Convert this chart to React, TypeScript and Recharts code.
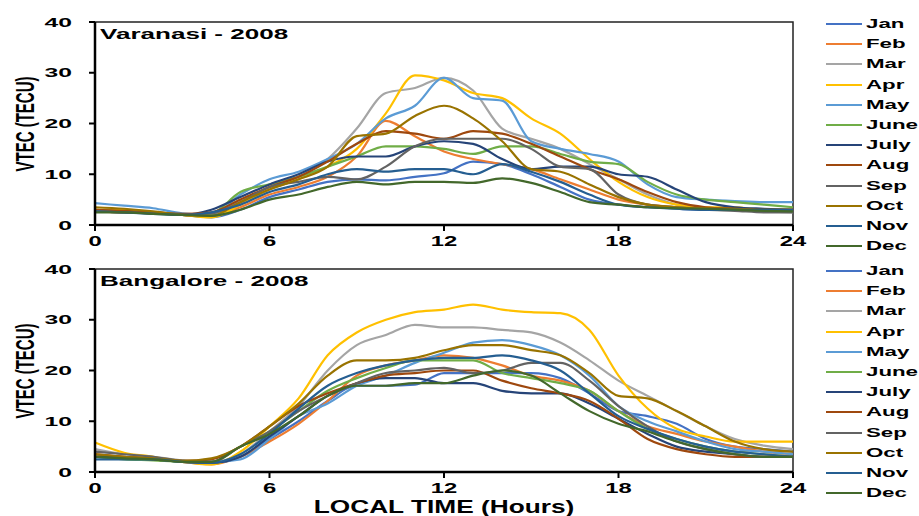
import { LineChart, Line, XAxis, YAxis, ReferenceArea, Legend } from "recharts";

const FONT = '"Liberation Sans", Arial, sans-serif';

const hours = [0, 1, 2, 3, 4, 5, 6, 7, 8, 9, 10, 11, 12, 13, 14, 15, 16, 17, 18, 19, 20, 21, 22, 23, 24];
const months = ["Jan", "Feb", "Mar", "Apr", "May", "June", "July", "Aug", "Sep", "Oct", "Nov", "Dec"];
const monthColors = [
  "#4472C4", "#ED7D31", "#A5A5A5", "#FFC000", "#5B9BD5", "#70AD47",
  "#264478", "#9E480E", "#636363", "#997300", "#255E91", "#43682B",
];
const xTicks = [0, 6, 12, 18, 24];
const yTicks = [0, 10, 20, 30, 40];

// Varanasi - 2008, hourly VTEC
const varJan = [3, 2.7, 2.4, 2, 1.5, 3, 5.5, 7, 8.5, 9, 8.8, 9.5, 10.2, 12.5, 12, 10, 7.5, 5, 4, 3.5, 3.2, 3, 3, 3, 3];
const varFeb = [2.8, 2.5, 2.5, 2, 1.8, 3.5, 6, 7.5, 9.5, 13.5, 20.5, 17.5, 14.5, 13, 12, 11, 9, 7, 5, 4, 3.5, 3.3, 3, 3, 3];
const varMar = [3, 2.8, 2.5, 2, 2.2, 4.5, 7.5, 9.5, 13, 19, 26, 27, 29, 26.5, 19, 17, 15, 12, 9, 6, 4, 3.2, 3, 2.7, 2.5];
const varApr = [3, 3, 2.5, 2, 1.5, 4, 7, 9, 11.5, 15, 22, 29.5, 28.5, 26, 25, 21, 18, 13, 8.5, 5.5, 4, 3.5, 3.5, 3, 3];
const varMay = [4.3, 3.8, 3.3, 2.3, 2, 6, 9, 10.5, 13, 16, 21, 23.5, 29, 25, 24.5, 16.5, 15, 14, 12.5, 8, 5.5, 5, 4.7, 4.5, 4.5];
const varJun = [3, 2.7, 2.3, 2, 2.3, 6.5, 8, 9.5, 11.5, 13.5, 15.5, 15.5, 15, 14, 15.5, 15.5, 14, 12.5, 12, 8.5, 6, 5, 4.5, 4, 3.5];
const varJul = [2.7, 2.5, 2.3, 2, 3, 5.5, 8, 10, 12.5, 13.5, 13.5, 15.5, 16.5, 16, 13, 11, 11.5, 11.5, 10, 9.5, 7, 4.5, 3.5, 3.2, 3];
const varAug = [3, 2.8, 2.5, 2.2, 2.5, 5, 7.5, 9.5, 12.5, 16, 18.5, 18, 17, 18.5, 18, 16, 13.5, 11, 9, 6.5, 4.5, 3.5, 3.2, 3, 3];
const varSep = [2.7, 2.5, 2.3, 2, 2.3, 4.5, 7.5, 8.5, 9.5, 9, 11.5, 15.5, 17, 17, 17, 15, 11.5, 11, 6, 4, 3.5, 3, 2.8, 2.5, 2.5];
const varOct = [3.5, 3.2, 2.7, 2, 1.8, 4.5, 7, 9, 11.5, 17.5, 18, 21.5, 23.5, 21, 16.5, 11, 10.5, 8, 5.5, 4, 3.5, 3.3, 3.2, 3, 3];
const varNov = [2.7, 2.5, 2.2, 2, 2.5, 4, 6.5, 8, 10, 11, 10.5, 11, 11, 10, 12, 10.5, 8.5, 6, 4, 3.5, 3.2, 3, 3, 3, 3];
const varDec = [2.5, 2.5, 2.2, 2, 1.8, 3, 5, 6, 7.5, 8.5, 8, 8.5, 8.5, 8.3, 9.2, 8.3, 6.5, 4.5, 4, 3.5, 3.3, 3.2, 3, 2.8, 2.7];

// Bangalore - 2008, hourly VTEC
const banJan = [3, 2.8, 2.7, 2.2, 1.8, 3, 6.5, 10, 14, 17, 17, 17.2, 19.5, 19.5, 19.5, 19.5, 18.5, 15.5, 12, 11, 9.5, 6.5, 5, 4.5, 4];
const banFeb = [3.5, 3, 2.7, 2, 1.5, 3, 6, 9.5, 14, 19, 21, 22, 23, 22.5, 21, 19, 18, 16, 12, 9, 7.5, 6, 5, 4, 3.5];
const banMar = [4.5, 3.5, 3, 2.3, 2, 3.5, 8, 13, 20, 25, 27, 29, 28.5, 28.5, 28, 27.5, 25.5, 22, 18, 15, 12, 9, 6.5, 5.2, 4.5];
const banApr = [5.8, 3.8, 3, 2, 1.5, 4, 9, 14.5, 23, 27.5, 30, 31.5, 32, 33, 32, 31.5, 31.3, 28, 19, 12.5, 8.5, 7, 6, 6, 6];
const banMay = [3, 2.8, 2.7, 2, 2, 2.5, 6.5, 11, 13.5, 17, 19, 21.5, 23.5, 25.5, 26, 25, 23, 19, 13, 10, 8, 6, 4.5, 4, 3.5];
const banJun = [3, 2.5, 2.3, 2, 2, 5, 8, 12, 16, 18.5, 20.5, 22, 22, 22, 19.5, 18.5, 17.5, 16, 12, 8.5, 6.5, 5, 4, 3.5, 3];
const banJul = [3, 2.8, 2.5, 2, 1.8, 3, 7, 11, 15, 17.5, 18.5, 18.5, 17.5, 17.5, 16, 15.5, 15.5, 13.5, 10.5, 7.5, 5, 4, 3.5, 3, 3];
const banAug = [3.5, 3, 2.7, 2.2, 2.5, 5, 9, 13, 15.5, 17.5, 19, 19.5, 20, 20, 18, 16.5, 15.5, 14, 10.5, 6.5, 4.5, 3.5, 3, 3, 3];
const banSep = [4, 3.5, 3, 2.2, 2, 5, 8, 12, 15, 17.5, 19.5, 20, 20.5, 19.5, 20, 21.5, 21.5, 18, 13, 9, 6, 4.5, 3.5, 3, 3];
const banOct = [3.5, 3, 2.7, 2.2, 2.7, 5, 9, 13.5, 19, 22, 22, 22.5, 24, 25, 25, 24, 23, 19.5, 15, 14.5, 12, 9, 6, 4.5, 4];
const banNov = [2.5, 2.5, 2.5, 2, 1.8, 3.5, 7.5, 12.5, 17, 19.5, 21, 22, 22.5, 22.5, 23, 22, 20, 15.5, 11, 8.5, 6.5, 5, 4, 3.5, 3];
const banDec = [3, 2.7, 2.5, 2, 2, 5, 7.5, 11, 15, 17, 17, 17.5, 17.5, 19, 20, 19, 15.5, 12, 9.5, 8, 6, 4.5, 3.5, 3, 3];

const varanasi = [varJan, varFeb, varMar, varApr, varMay, varJun, varJul, varAug, varSep, varOct, varNov, varDec];
const bangalore = [banJan, banFeb, banMar, banApr, banMay, banJun, banJul, banAug, banSep, banOct, banNov, banDec];

const buildRows = (series: number[][]) =>
  hours.map((h, i) => {
    const row: Record<string, number> = { hour: h };
    months.forEach((m, j) => {
      row[m] = series[j][i];
    });
    return row;
  });

const XTick = ({ x, y, payload }: any) => (
  <text
    transform={`translate(${x},${y + 13}) scale(1.7,1)`}
    textAnchor="middle"
    fontSize={14}
    fontWeight="bold"
    fontFamily={FONT}
    fill="#000"
  >
    {payload.value}
  </text>
);

const YTick = ({ x, y, payload }: any) => (
  <text
    transform={`translate(${x - 15},${y + 4.6}) scale(1.9,1)`}
    textAnchor="end"
    fontSize={13}
    fontWeight="bold"
    fontFamily={FONT}
    fill="#000"
  >
    {payload.value}
  </text>
);

// keep legend in calendar order (recharts sorts by name otherwise)
const LegendList = ({ payload }: any) => {
  const items = [...(payload || [])].sort(
    (a: any, b: any) => months.indexOf(a.value) - months.indexOf(b.value)
  );
  return (
    <div style={{ fontFamily: FONT }}>
      {items.map((item: any) => (
        <div key={item.value} style={{ height: 20.2, display: "flex", alignItems: "center" }}>
          <svg width={36} height={4} style={{ display: "block" }}>
            <line x1={0} y1={2} x2={36} y2={2} stroke={item.color} strokeWidth={2} />
          </svg>
          <span
            style={{
              marginLeft: 4,
              fontSize: 13.5,
              fontWeight: "bold",
              color: "#000",
              display: "inline-block",
              transform: "scaleX(1.65)",
              transformOrigin: "left center",
              lineHeight: "16px",
            }}
          >
            {item.value}
          </span>
        </div>
      ))}
    </div>
  );
};

const Panel = ({ title, series, bottom }: { title: string; series: number[][]; bottom: number }) => (
  <div style={{ position: "relative", width: 919, height: 258 + bottom }}>
    <LineChart
      width={919}
      height={258 + bottom}
      data={buildRows(series)}
      margin={{ top: 22, right: 126, bottom: 3 + bottom, left: 0 }}
    >
      <ReferenceArea x1={0} x2={24} y1={0} y2={40} fill="none" stroke="#222" strokeWidth={1.5} />
      <XAxis
        dataKey="hour"
        type="number"
        domain={[0, 24]}
        ticks={xTicks}
        height={30}
        tick={<XTick />}
        tickSize={6}
        axisLine={{ stroke: "#000", strokeWidth: 2.5 }}
        tickLine={{ stroke: "#000", strokeWidth: 2 }}
        interval={0}
      />
      <YAxis
        type="number"
        domain={[0, 40]}
        ticks={yTicks}
        width={95}
        tick={<YTick />}
        tickSize={6}
        axisLine={{ stroke: "#000", strokeWidth: 2.5 }}
        tickLine={{ stroke: "#000", strokeWidth: 2 }}
        interval={0}
      />
      {months.map((m, j) => (
        <Line
          key={m}
          type="monotone"
          dataKey={m}
          stroke={monthColors[j]}
          strokeWidth={2.2}
          dot={false}
          isAnimationActive={false}
        />
      ))}
      <Legend
        layout="vertical"
        align="center"
        verticalAlign="middle"
        content={<LegendList />}
        wrapperStyle={{ left: 826, top: 14, width: 93 }}
      />
    </LineChart>
    <div
      style={{
        position: "absolute",
        left: 100,
        top: 25,
        fontFamily: FONT,
        fontWeight: "bold",
        fontSize: 15.5,
        lineHeight: "17px",
        transform: "scaleX(1.68)",
        transformOrigin: "left center",
        whiteSpace: "nowrap",
      }}
    >
      {title}
    </div>
    <div
      style={{
        position: "absolute",
        left: 24,
        top: 123.5,
        fontFamily: FONT,
        fontWeight: "bold",
        fontSize: 15,
        lineHeight: "17px",
        whiteSpace: "nowrap",
        transform: "translate(-50%, -50%) rotate(-90deg) scale(1, 1.75)",
      }}
    >
      VTEC (TECU)
    </div>
  </div>
);

export default function App() {
  return (
    <div style={{ position: "absolute", left: 0, top: 0, width: 919, height: 516, background: "#fff" }}>
      <div style={{ position: "absolute", left: 0, top: 0 }}>
        <Panel title="Varanasi - 2008" series={varanasi} bottom={0} />
      </div>
      <div style={{ position: "absolute", left: 0, top: 247 }}>
        <Panel title="Bangalore - 2008" series={bangalore} bottom={11} />
      </div>
      <div
        style={{
          position: "absolute",
          left: 444,
          top: 507,
          fontFamily: FONT,
          fontWeight: "bold",
          fontSize: 17.5,
          lineHeight: "20px",
          whiteSpace: "nowrap",
          transform: "translate(-50%, -50%) scaleX(1.5)",
        }}
      >
        LOCAL TIME (Hours)
      </div>
    </div>
  );
}
